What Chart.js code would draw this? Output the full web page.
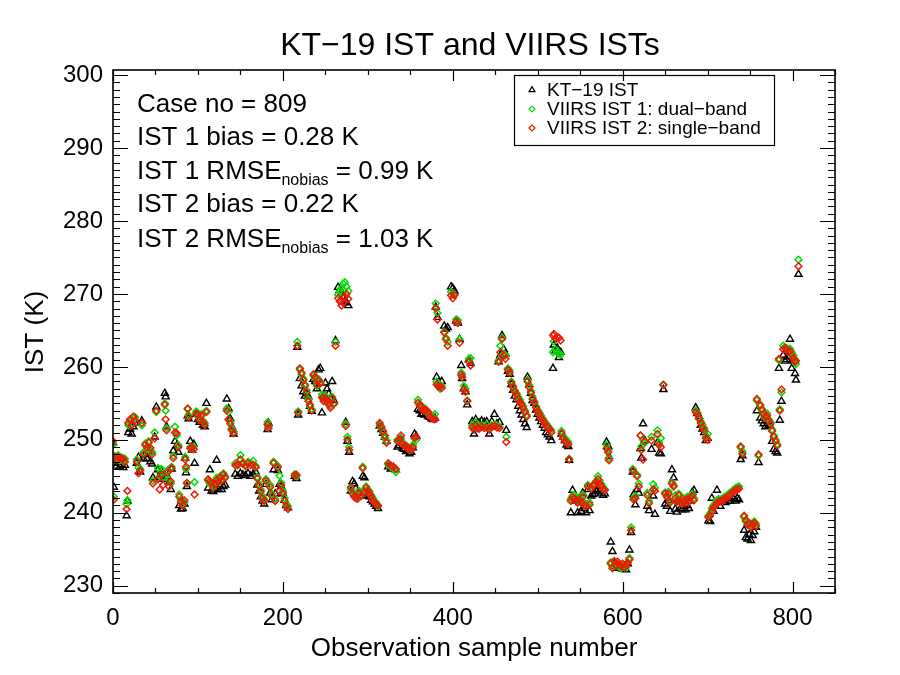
<!DOCTYPE html>
<html>
<head>
<meta charset="utf-8">
<title>KT-19 IST and VIIRS ISTs</title>
<script src="https://cdn.jsdelivr.net/npm/chart.js@4.4.1/dist/chart.umd.min.js"></script>
<style>
  html, body { margin: 0; padding: 0; background: #fff; }
  #wrap { width: 900px; height: 675px; }
</style>
</head>
<body>
<div id="wrap"><canvas id="chart" width="900" height="675"></canvas></div>
<script>
// observation sample numbers (one line per cluster, same layout in every value array)
const samples = [
  0, 1, 2, 4, 6, 8, 10, 12, 14, 16, 17,
  18, 20, 22, 24, 26,
  28, 30, 32, 34, 36, 38, 40,
  42, 44, 46, 47, 49, 51, 53, 55, 57, 59,
  61, 62, 63, 64, 66, 68,
  69, 71, 73, 75, 77,
  78, 80, 82, 84,
  85, 86, 87, 88, 89, 91, 93, 95, 96,
  98, 100, 102, 104, 106, 108, 110,
  112, 114, 116, 118, 120, 122, 124, 126, 128, 130, 132,
  134, 136, 138, 140, 142,
  144, 147, 150, 153, 156, 159, 162, 165, 168,
  170, 172, 174, 176, 178, 180,
  182, 183, 185, 187, 189, 191,
  194, 196, 198, 200, 202, 204, 206,
  214, 216, 217, 218,
  220, 222, 224, 226, 228, 230, 232, 234, 236, 238, 240, 242, 244, 246, 248, 250, 252, 254, 256, 258, 260, 262,
  265, 267, 269, 271, 273, 275, 277,
  274, 276, 278,
  280, 282, 284, 286, 288, 290, 292, 294, 296, 298,
  300, 302, 304, 306, 308, 310, 312,
  314, 316, 318, 320, 322,
  324, 327, 330, 333,
  335, 337, 339, 341, 343, 345, 347, 349, 351, 353, 355, 357,
  359, 361, 363, 365, 367, 369, 371, 373, 375, 377, 379,
  380, 382, 381, 383, 385, 387,
  390, 392, 394,
  398, 400, 402,
  404, 406, 408, 410, 411, 413, 415, 417, 419, 421,
  423, 425, 427, 429, 431, 434, 437, 440, 443, 446, 449, 452, 455,
  454, 456, 458, 460, 462, 463, 465, 467,
  469, 471, 473, 475, 477, 479, 481, 483, 485, 487,
  488, 490, 492, 494, 496, 498,
  500, 502, 504, 506, 508, 510, 512, 514, 516,
  518, 519, 521, 523, 525, 527,
  528, 530, 532, 534, 536, 537,
  539, 541, 543, 545, 547, 549, 551, 553, 555, 557, 559, 561,
  563, 565, 567, 569, 571, 573, 575, 577, 579,
  581, 583, 584,
  586, 588, 590, 592, 594, 596, 598, 600, 602, 604, 606, 608,
  610, 612, 613, 615, 617, 619, 621, 622, 624, 626, 629, 631, 634, 636, 638, 641, 643, 645, 648,
  650, 652, 654, 656, 658, 660, 662, 664, 666, 668, 670, 672, 674, 676, 678, 680, 682, 684,
  686, 688, 690, 692, 694, 696, 698, 700, 701, 703,
  705, 707, 709, 711, 713, 715, 717, 719, 721, 723, 725, 727, 729, 731, 733, 735, 737,
  739, 741,
  743, 745, 747, 749, 751, 753, 755, 757,
  758, 760, 762,
  764, 766, 768, 770, 772, 774,
  776, 778, 780, 782,
  784, 785, 787,
  789, 791, 793, 795, 797, 799, 801, 803, 804, 807
];

// KT-19 IST (K)
const kt19 = [
  249.6, 243.5, 246.8, 246.4, 246.9, 246.3, 246.6, 246.2, 246.5, 239.6, 241.6,
  251.0, 251.5, 250.8, 251.8, 252.3,
  246.8, 247.6, 245.6, 252.6, 247.4, 248.0, 247.4,
  248.3, 247.0, 246.7, 244.8, 250.4, 254.5, 245.9, 244.8, 245.7, 244.6,
  256.4, 255.9, 251.8, 245.0, 244.2, 243.2,
  246.0, 248.5, 249.8, 249.2, 248.3,
  241.0, 240.5, 240.6, 241.2,
  247.5, 245.5, 243.6, 253.3, 252.9, 249.8, 248.6, 249.4, 246.8,
  253.5, 252.8, 252.4, 252.6, 252.0, 251.8, 255.0,
  243.4, 245.9, 243.0, 242.9, 243.3, 247.2, 243.2, 243.6, 243.2, 243.6, 243.8,
  255.6, 254.3, 252.9, 251.8, 250.8,
  245.3, 245.0, 245.4, 245.2, 245.1, 245.4, 245.0, 245.3, 245.6,
  243.8, 243.0, 242.2, 241.6, 241.2, 243.9,
  251.4, 252.3, 242.7, 241.8, 245.9, 242.6,
  245.8, 243.9, 243.6, 242.6, 241.7, 241.0, 240.7,
  245.0, 244.7, 262.7, 253.4,
  258.4, 257.4, 256.6, 256.0, 256.3, 255.9, 254.6, 253.9, 258.3, 258.0, 257.0, 259.6, 259.8, 253.7, 256.0, 257.8, 257.0, 256.3, 255.7, 258.0, 255.4, 263.6,
  270.9, 270.5, 270.2, 269.6, 269.0, 268.8, 268.4,
  252.4, 249.8, 248.3,
  243.0, 244.3, 244.0, 243.3, 242.8, 242.6, 242.3, 245.0, 244.8, 242.4,
  242.6, 242.2, 241.7, 241.5, 241.2, 240.9, 240.6,
  251.9, 251.4, 250.9, 250.4, 249.8,
  246.3, 246.0, 246.2, 245.9,
  249.0, 249.2, 250.1, 248.8, 248.7, 248.4, 248.5, 248.1, 248.3, 248.9, 250.8, 250.5,
  254.2, 254.0, 253.5, 253.6, 253.4, 253.6, 253.2, 253.1, 252.9, 252.8, 253.0,
  268.2, 266.8, 258.6, 257.8, 257.5, 258.0,
  265.6, 265.2, 265.4,
  271.0, 270.8, 270.4,
  266.3, 266.0, 263.8, 260.2, 258.4, 257.0, 256.6, 254.8, 261.0, 260.5,
  252.5, 250.8, 252.8, 252.2, 252.3, 252.6, 252.4, 252.5, 250.8, 252.5, 253.5, 252.2, 252.4,
  260.7, 261.6, 264.3, 262.4, 261.8, 251.3, 259.4, 259.0,
  257.6, 256.8, 256.0, 255.5, 254.6, 254.0, 253.4, 252.8, 252.2, 251.7,
  258.6, 257.6, 256.4, 255.4, 255.0, 254.1,
  253.5, 253.0, 252.5, 252.0, 251.6, 251.0, 250.7, 250.4, 249.9,
  259.8, 263.0, 262.2, 262.6, 261.3, 262.0,
  250.8, 250.4, 249.9, 249.3, 249.1, 247.2,
  240.0, 243.1, 241.8, 241.6, 240.0, 241.4, 240.2, 242.7, 240.6, 240.0, 243.2, 240.3,
  242.3, 242.5, 242.6, 243.0, 243.2, 243.0, 242.7, 242.4, 242.6,
  249.7, 249.1, 247.7,
  236.0, 234.7, 233.0, 232.6, 232.4, 232.8, 232.5, 232.3, 232.6, 232.2, 233.0, 234.9,
  237.3, 245.6, 242.5, 241.1, 243.2, 242.7, 248.8, 247.5, 252.2, 249.9, 240.9, 240.3, 248.7, 242.3, 239.8, 249.6, 248.2, 248.1, 256.9,
  241.2, 240.9, 241.7, 240.2, 245.9, 244.8, 240.5, 240.1, 241.5, 240.6, 240.4, 240.9, 240.4, 241.0, 240.6, 241.6, 242.8, 243.1,
  254.4, 253.6, 253.2, 252.0, 251.5, 251.0, 249.9, 250.2, 238.9, 238.8,
  242.0, 240.2, 240.9, 243.1, 241.4, 240.9, 241.7, 242.0, 241.4, 242.0, 241.6, 241.6, 242.2, 241.9, 241.6, 242.0, 241.8,
  247.3, 247.8,
  237.6, 236.6, 236.4, 237.0, 236.2, 236.9, 237.4, 238.0,
  254.0, 246.9, 253.0,
  252.6, 252.2, 251.8, 252.6, 252.0, 251.9,
  249.8, 248.7, 248.4, 248.2,
  259.8, 252.7, 255.3,
  261.6, 260.8, 261.0, 261.4, 263.8, 259.8, 260.8, 259.1, 258.2, 272.7
];

// VIIRS IST 1: dual-band (K)
const ist1 = [
  249.3, 242.2, 247.8, 247.5, 247.9, 247.2, 247.6, 247.1, 247.4, 241.2, 241.7,
  252.0, 252.6, 252.2, 253.0, 253.1,
  247.3, 246.2, 246.0, 252.0, 248.3, 249.5, 248.8,
  249.8, 248.6, 248.3, 244.4, 251.0, 253.8, 246.1, 245.0, 246.0, 244.9,
  255.0, 254.0, 251.6, 245.8, 244.5, 244.0,
  246.3, 247.8, 251.8, 250.6, 249.3,
  242.5, 241.8, 241.2, 241.4,
  247.6, 246.0, 244.0, 254.2, 253.4, 249.0, 248.9, 249.1, 244.2,
  253.9, 253.2, 253.0, 253.5, 252.6, 252.3, 254.0,
  244.4, 244.0, 243.8, 243.6, 244.1, 244.8, 244.5, 245.0, 244.6, 245.4, 245.0,
  254.3, 253.8, 252.5, 251.6, 251.1,
  246.8, 246.5, 247.9, 246.9, 246.6, 247.0, 246.8, 247.1, 246.4,
  244.9, 244.0, 243.2, 242.3, 241.9, 244.6,
  252.4, 251.8, 243.8, 242.6, 247.0, 241.9,
  246.4, 245.1, 244.1, 243.0, 242.0, 241.2, 240.9,
  245.3, 245.0, 263.4, 253.9,
  259.6, 259.0, 258.4, 257.6, 256.8, 255.6, 254.6, 254.2, 258.8, 258.4, 257.4, 258.3, 257.9, 256.2, 255.5, 256.0, 255.5, 255.0, 254.7, 255.9, 255.0, 263.4,
  269.9, 270.4, 270.8, 271.4, 271.6, 271.0, 270.4,
  252.2, 250.4, 249.0,
  243.3, 242.9, 242.4, 242.6, 242.2, 243.0, 242.6, 246.3, 243.1, 243.6,
  243.2, 242.9, 242.4, 242.0, 241.6, 241.3, 240.9,
  252.0, 251.6, 251.0, 250.3, 249.9,
  246.6, 246.3, 246.1, 245.6,
  250.0, 249.8, 250.2, 249.6, 249.4, 249.0, 249.0, 248.6, 248.9, 249.3, 250.2, 250.0,
  255.5, 254.9, 254.4, 254.2, 254.3, 253.8, 253.6, 253.5, 253.3, 253.1, 253.5,
  268.7, 267.4, 258.0, 257.6, 257.0, 257.4,
  264.8, 264.0, 263.4,
  270.3, 270.0, 269.8,
  266.5, 266.4, 263.8, 259.2, 259.0, 257.4, 257.0, 255.4, 261.1, 261.2,
  252.0, 251.8, 252.4, 252.0, 251.8, 252.0, 251.9, 252.1, 251.7, 252.0, 252.1, 252.0, 251.8,
  260.9, 262.9, 264.0, 261.8, 261.6, 250.4, 259.8, 259.5,
  258.0, 257.4, 256.8, 256.4, 255.9, 255.5, 255.0, 254.6, 254.0, 253.4,
  258.2, 257.5, 256.7, 255.9, 255.3, 254.6,
  254.1, 253.7, 253.3, 252.9, 252.5, 252.2, 251.9, 251.6, 251.3,
  262.0, 263.5, 262.4, 262.0, 261.8, 261.7,
  251.2, 250.5, 250.2, 249.9, 249.7, 247.4,
  241.9, 242.3, 242.4, 242.0, 241.6, 242.2, 241.7, 242.5, 241.3, 241.2, 243.8, 241.4,
  243.5, 243.8, 244.0, 244.4, 245.0, 244.4, 243.9, 243.5, 243.2,
  249.3, 248.6, 247.5,
  233.2, 232.6, 232.8, 233.0, 232.9, 232.6, 232.4, 232.6, 232.8, 232.5, 233.2, 233.8,
  238.0, 246.0, 242.0, 242.3, 245.2, 244.0, 250.6, 249.1, 250.0, 249.6, 242.7, 241.6, 250.4, 243.9, 243.4, 251.3, 249.6, 250.2, 257.6,
  242.8, 242.4, 242.9, 241.6, 244.2, 243.8, 242.4, 241.8, 242.6, 241.7, 241.4, 242.0, 241.6, 242.2, 241.8, 242.3, 242.6, 242.0,
  254.0, 253.7, 253.0, 252.5, 252.1, 251.6, 250.5, 250.8, 239.6, 239.9,
  240.6, 241.0, 241.3, 241.7, 241.9, 241.8, 241.9, 242.1, 242.2, 242.4, 242.6, 242.8, 243.0, 243.2, 243.4, 243.5, 243.6,
  248.9, 248.4,
  239.4, 238.8, 238.6, 238.3, 238.2, 238.6, 238.8, 238.5,
  255.4, 247.8, 254.6,
  254.0, 253.4, 253.0, 253.6, 252.8, 252.4,
  251.4, 250.6, 250.0, 249.4,
  260.9, 254.2, 256.5,
  262.9, 262.7, 262.6, 262.4, 262.5, 262.0, 261.6, 261.0, 260.4, 274.7
];

// VIIRS IST 2: single-band (K)
const ist2 = [
  249.8, 241.8, 247.6, 247.3, 247.7, 247.5, 247.4, 247.4, 247.0, 240.5, 243.0,
  252.3, 252.8, 252.0, 253.2, 252.7,
  247.0, 245.4, 245.8, 252.3, 248.0, 249.3, 249.0,
  249.6, 248.9, 248.0, 244.0, 250.2, 254.0, 244.6, 243.2, 245.2, 243.8,
  254.8, 252.8, 251.3, 245.5, 243.6, 244.3,
  246.1, 247.5, 251.0, 250.9, 249.0,
  242.2, 241.5, 241.0, 241.7,
  247.3, 246.3, 244.1, 254.3, 253.1, 248.8, 249.0, 248.7, 242.5,
  253.6, 253.4, 252.7, 253.3, 252.4, 252.0, 253.8,
  244.6, 244.3, 244.1, 243.4, 243.9, 244.5, 244.2, 244.8, 244.4, 245.2, 244.8,
  254.0, 252.8, 252.2, 251.3, 250.9,
  246.5, 246.6, 247.3, 246.7, 246.4, 246.8, 246.5, 246.6, 246.2,
  244.7, 243.7, 242.9, 242.0, 241.6, 244.4,
  252.1, 251.6, 243.5, 242.3, 246.8, 241.6,
  246.2, 243.0, 243.8, 242.7, 241.6, 240.9, 240.5,
  245.1, 245.2, 262.9, 253.7,
  259.8, 259.2, 258.2, 257.4, 256.5, 255.3, 254.8, 254.0, 259.0, 258.6, 257.6, 258.1, 257.7, 255.8, 255.3, 255.7, 255.3, 254.8, 254.4, 255.7, 254.9, 262.9,
  269.4, 269.0, 268.4, 268.8, 269.6, 270.0, 269.3,
  251.9, 250.0, 248.6,
  243.5, 242.6, 242.2, 242.0, 241.9, 242.7, 242.3, 246.1, 242.8, 243.4,
  243.0, 242.6, 242.2, 241.7, 241.4, 241.1, 241.0,
  252.3, 251.8, 251.2, 250.6, 249.6,
  246.8, 246.5, 246.3, 246.0,
  249.8, 250.0, 250.6, 249.4, 249.2, 249.2, 248.8, 248.7, 248.6, 249.0, 250.3, 250.4,
  255.1, 254.7, 254.6, 254.0, 254.0, 254.1, 253.8, 253.2, 253.0, 252.9, 252.8,
  268.0, 266.5, 257.6, 257.3, 257.3, 257.1,
  264.7, 263.8, 262.9,
  269.8, 269.4, 269.9,
  266.2, 266.0, 263.3, 258.9, 258.6, 256.9, 256.6, 255.3, 260.7, 260.2,
  251.7, 251.4, 252.0, 251.6, 251.5, 251.8, 251.6, 251.7, 251.4, 251.8, 251.9, 251.7, 251.6,
  260.7, 262.0, 263.8, 261.5, 261.1, 249.7, 259.6, 259.2,
  257.8, 257.2, 256.6, 256.2, 255.6, 255.2, 254.8, 254.3, 253.8, 253.2,
  258.0, 257.2, 256.5, 255.6, 255.1, 254.4,
  253.9, 253.5, 253.0, 252.7, 252.3, 251.9, 251.7, 251.4, 251.0,
  264.3, 264.5, 263.9, 264.1, 264.0, 263.6,
  250.9, 250.2, 249.8, 249.6, 249.4, 247.3,
  241.6, 242.1, 242.0, 241.7, 241.4, 241.8, 241.5, 242.2, 241.0, 240.9, 243.6, 241.1,
  243.3, 243.7, 243.9, 244.2, 244.6, 244.0, 243.6, 243.2, 243.1,
  248.8, 248.3, 247.2,
  233.0, 232.4, 233.4, 232.8, 233.3, 232.9, 232.7, 233.0, 232.5, 232.8, 233.1, 233.6,
  237.6, 245.8, 241.8, 242.0, 245.0, 243.6, 250.6, 248.6, 247.3, 249.8, 242.4, 241.3, 249.9, 243.2, 243.0, 250.8, 249.3, 249.0, 257.5,
  242.6, 242.2, 242.6, 241.4, 244.0, 243.6, 242.0, 241.5, 242.4, 241.4, 241.2, 241.7, 241.3, 241.9, 241.5, 242.1, 242.3, 241.7,
  253.8, 253.5, 252.9, 252.3, 251.7, 251.3, 250.2, 250.0, 239.4, 239.6,
  240.2, 240.7, 241.0, 241.3, 241.5, 241.6, 241.6, 241.8, 242.0, 242.1, 242.3, 242.5, 242.7, 242.9, 243.1, 243.2, 243.3,
  249.1, 248.1,
  239.6, 239.0, 238.4, 238.6, 238.0, 238.4, 238.6, 238.2,
  255.6, 248.0, 254.8,
  254.2, 253.6, 253.2, 253.3, 252.6, 252.2,
  251.2, 250.4, 249.8, 249.2,
  261.1, 254.0, 256.9,
  262.4, 262.6, 262.4, 262.0, 262.2, 261.6, 261.2, 260.7, 260.8, 273.8
];

const xTicks = [0, 200, 400, 600, 800];
const yTicks = [230, 240, 250, 260, 270, 280, 290, 300];

const chartTitle = 'KT\u221219 IST and VIIRS ISTs';
const xTitle = 'Observation sample number';
const yTitle = 'IST (K)';
const seriesNames = ['KT\u221219 IST', 'VIIRS IST 1: dual\u2212band', 'VIIRS IST 2: single\u2212band'];
const caseNo = 809;
const bias1 = 0.28, rmse1 = 0.99;
const bias2 = 0.22, rmse2 = 1.03;

const FONT = '"Liberation Sans", Arial, Helvetica, sans-serif';
const GREEN = '#00dd00';
const RED = '#f01808';

const makeSeries = (label, values, style, color, radius, width, order) => ({
    label: label,
    data: samples.map((s, i) => ({ x: s, y: values[i] })),
    pointStyle: style,
    pointRadius: radius,
    pointBorderWidth: width,
    borderColor: color,
    backgroundColor: 'rgba(0,0,0,0)',
    showLine: false,
    order: order
});

const datasets = [
    makeSeries(seriesNames[0], kt19, 'triangle', '#000', 4.1, 1.4, 2),
    makeSeries(seriesNames[1], ist1, 'rectRot', GREEN, 3.4, 1.5, 1),
    makeSeries(seriesNames[2], ist2, 'rectRot', RED, 3.4, 1.5, 0)
];

// frame, inward ticks, titles, stats text and legend box
const decor = {
    id: 'decor',
    afterDraw(chart) {
        const { ctx, chartArea: a, scales: { x, y } } = chart;
        ctx.save();
        ctx.strokeStyle = '#000';
        ctx.lineWidth = 1.6;
        ctx.strokeRect(a.left, a.top, a.right - a.left, a.bottom - a.top);

        ctx.lineWidth = 1.2;
        ctx.beginPath();
        for (let v = x.min; v <= x.max; v += 50) {
            const px = Math.round(x.getPixelForValue(v)) + 0.5;
            const len = xTicks.includes(v) ? 11 : 5;
            ctx.moveTo(px, a.bottom); ctx.lineTo(px, a.bottom - len);
            ctx.moveTo(px, a.top); ctx.lineTo(px, a.top + len);
        }
        for (let v = Math.ceil(y.min); v <= y.max; v += 1) {
            const py = Math.round(y.getPixelForValue(v)) + 0.5;
            const len = yTicks.includes(v) ? 15 : 7;
            ctx.moveTo(a.left, py); ctx.lineTo(a.left + len, py);
            ctx.moveTo(a.right, py); ctx.lineTo(a.right - len, py);
        }
        ctx.stroke();

        ctx.fillStyle = '#000';
        ctx.textBaseline = 'alphabetic';
        ctx.textAlign = 'center';
        ctx.font = '32px ' + FONT;
        ctx.fillText(chartTitle, 470, 55);
        ctx.font = '26px ' + FONT;
        ctx.fillText(xTitle, (a.left + a.right) / 2, 656);

        ctx.save();
        ctx.translate(43, 332);
        ctx.rotate(-Math.PI / 2);
        ctx.fillText(yTitle, 0, 0);
        ctx.restore();

        // statistics block
        ctx.textAlign = 'left';
        const tx = 137;
        const plain = (txt, yy) => { ctx.font = '26px ' + FONT; ctx.fillText(txt, tx, yy); };
        const withSub = (head, sub, tail, yy) => {
            ctx.font = '26px ' + FONT;
            ctx.fillText(head, tx, yy);
            let cx = tx + ctx.measureText(head).width;
            ctx.font = '16px ' + FONT;
            ctx.fillText(sub, cx, yy + 6);
            cx += ctx.measureText(sub).width;
            ctx.font = '26px ' + FONT;
            ctx.fillText(tail, cx, yy);
        };
        plain('Case no = ' + caseNo, 111.5);
        plain('IST 1 bias = ' + bias1.toFixed(2) + ' K', 145);
        withSub('IST 1 RMSE', 'nobias', ' = ' + rmse1.toFixed(2) + ' K', 178.5);
        plain('IST 2 bias = ' + bias2.toFixed(2) + ' K', 212);
        withSub('IST 2 RMSE', 'nobias', ' = ' + rmse2.toFixed(2) + ' K', 246.5);

        // legend
        ctx.lineWidth = 1.2;
        ctx.strokeRect(514.5, 75.5, 260, 70);
        const rowY = [96, 115, 134];
        datasets.forEach((ds, i) => {
            ctx.strokeStyle = ds.borderColor;
            ctx.fillStyle = 'rgba(0,0,0,0)';
            Chart.helpers.drawPoint(ctx, {
                pointStyle: ds.pointStyle,
                radius: ds.pointStyle === 'triangle' ? 3.4 : 3,
                borderWidth: 1.3,
                rotation: 0
            }, 532, rowY[i] - 6);
            ctx.fillStyle = '#000';
            ctx.font = '19px ' + FONT;
            ctx.fillText(ds.label, 547, rowY[i]);
        });

        if (kt19.length !== samples.length || ist1.length !== samples.length || ist2.length !== samples.length) {
            ctx.fillStyle = 'magenta';
            ctx.font = '14px ' + FONT;
            ctx.fillText('length mismatch ' + samples.length + '/' + kt19.length + '/' + ist1.length + '/' + ist2.length, 5, 14);
        }
        ctx.restore();
    }
};

const ctxChart = document.getElementById('chart').getContext('2d');
const chart = new Chart(ctxChart, {
    type: 'scatter',
    data: { datasets: datasets },
    options: {
        responsive: false,
        animation: false,
        layout: { padding: { top: 70, right: 65, left: 0, bottom: 0 } },
        scales: {
            x: {
                type: 'linear',
                min: 0,
                max: 850,
                grid: { display: false, drawTicks: false },
                border: { display: false },
                ticks: { color: '#000', font: { family: FONT, size: 24 }, padding: 11, maxRotation: 0 },
                afterBuildTicks: s => { s.ticks = xTicks.map(v => ({ value: v })); },
                afterFit: s => { s.height = 82; }
            },
            y: {
                type: 'linear',
                min: 229,
                max: 300.7,
                grid: { display: false, drawTicks: false },
                border: { display: false },
                ticks: { color: '#000', font: { family: FONT, size: 24 }, padding: 10 },
                afterBuildTicks: s => { s.ticks = yTicks.map(v => ({ value: v })); },
                afterFit: s => { s.width = 113; }
            }
        },
        plugins: {
            legend: { display: false },
            tooltip: { enabled: false },
            title: { display: false }
        }
    },
    plugins: [decor]
});
</script>
</body>
</html>
